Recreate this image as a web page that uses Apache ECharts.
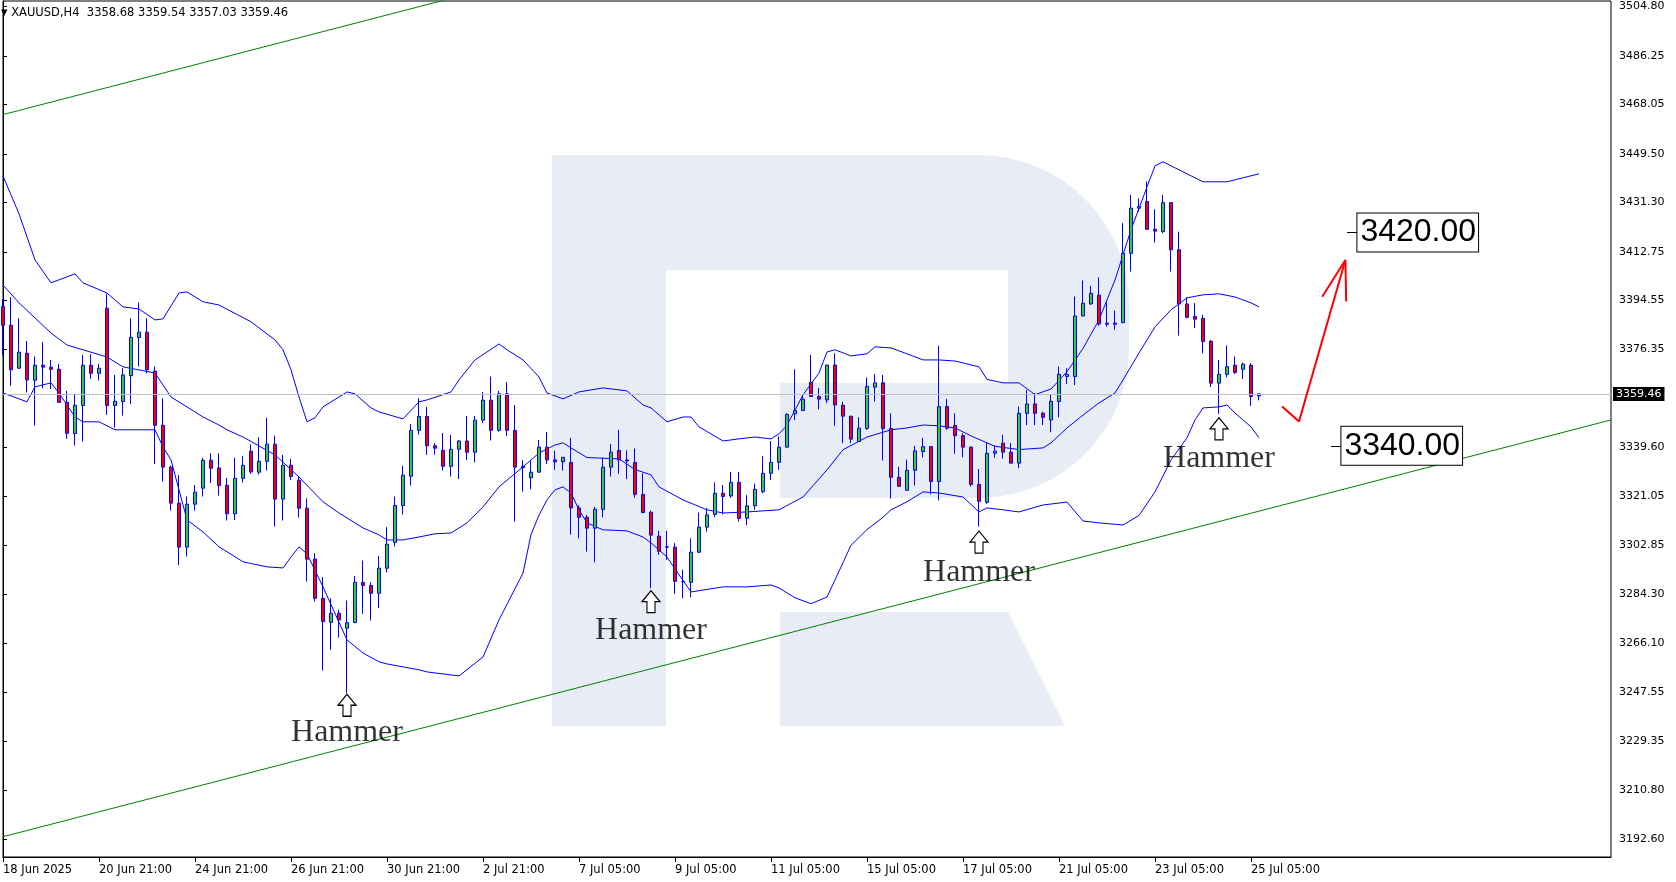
<!DOCTYPE html>
<html>
<head>
<meta charset="utf-8">
<script src="https://cdn.jsdelivr.net/npm/echarts@6/dist/echarts.min.js"></script>
<style>html,body{margin:0;padding:0;background:#fff;}#chart{width:1676px;height:882px;}</style>
</head>
<body>
<div id="chart"></div>
<script>
// ---------- DATA ----------
const symbolName = 'XAUUSD';
const timeframe = 'H4';
const sessionDays = ['18 Jun','19 Jun','20 Jun','23 Jun','24 Jun','25 Jun','26 Jun','27 Jun','30 Jun','1 Jul','2 Jul','3 Jul','4 Jul','7 Jul','8 Jul','9 Jul','10 Jul','11 Jul','14 Jul','15 Jul','16 Jul','17 Jul','18 Jul','21 Jul','22 Jul','23 Jul','24 Jul','25 Jul'];
const fullDayHours = ['01:00','05:00','09:00','13:00','17:00','21:00'];
const partialDayHours = {'18 Jun':['21:00'], '4 Jul':['01:00','05:00','09:00','13:00'], '25 Jul':['01:00','05:00','09:00']};
const xTickLabels = ['18 Jun 2025','20 Jun 21:00','24 Jun 21:00','26 Jun 21:00','30 Jun 21:00','2 Jul 21:00','7 Jul 05:00','9 Jul 05:00','11 Jul 05:00','15 Jul 05:00','17 Jul 05:00','21 Jul 05:00','23 Jul 05:00','25 Jul 05:00'];
const yTicks = [3192.60,3210.80,3229.35,3247.55,3266.10,3284.30,3302.85,3321.05,3339.60,3376.35,3394.55,3412.75,3431.30,3449.50,3468.05,3486.25,3504.80];

const opens = [
3392.2,3385.2,3369.1,3374.7,3364.6,3370.2,3369.5,3368.7,3356.3,3344.6,
3355.1,3370.2,3367.2,3391.6,3355.1,3356.6,3366.3,3380.6,3382.6,3368.0,
3347.7,3332.0,3318.5,3302.0,3318.1,3324.1,3334.6,3331.7,3325.2,3314.5,
3327.8,3338.0,3330.1,3334.2,3340.6,3320.0,3332.7,3327.1,3316.6,3297.5,
3282.8,3273.8,3277.2,3271.6,3273.7,3288.8,3287.6,3284.7,3294.1,3303.8,
3317.6,3328.6,3345.8,3351.0,3340.0,3338.3,3332.3,3338.7,3341.8,3337.6,
3349.6,3357.1,3345.8,3359.5,3345.8,3332.3,3328.0,3330.1,3339.5,3334.7,
3334.0,3333.8,3316.7,3313.2,3309.1,3316.2,3332.0,3338.3,3334.7,3333.8,
3321.8,3315.1,3306.1,3302.1,3302.0,3289.1,3288.8,3300.1,3309.5,3314.3,
3322.2,3321.2,3326.3,3312.8,3317.5,3322.8,3329.7,3333.8,3339.5,3352.0,
3353.2,3363.8,3358.5,3357.2,3370.3,3355.2,3351.1,3341.6,3346.5,3362.0,
3363.6,3346.5,3328.2,3323.3,3330.8,3337.8,3339.7,3326.6,3354.7,3347.6,
3343.8,3339.5,3325.5,3318.8,3337.2,3341.0,3337.6,3333.5,3352.2,3355.7,
3352.2,3349.7,3356.6,3366.0,3366.0,3388.7,3393.2,3396.5,3386.0,3386.0,
3386.2,3412.2,3429.1,3431.6,3421.2,3420.3,3431.2,3413.5,3393.2,3388.5,
3387.8,3379.2,3363.5,3366.8,3370.2,3368.7,3370.2,3358.68];
const closes = [
3385.2,3368.5,3375.1,3364.7,3370.2,3369.5,3368.7,3356.3,3344.7,3355.2,
3370.2,3367.2,3369.1,3355.1,3356.7,3366.6,3380.7,3382.6,3368.5,3347.7,
3332.0,3318.5,3302.0,3318.1,3322.6,3334.6,3331.6,3325.1,3314.5,3327.8,
3332.7,3330.2,3334.2,3340.6,3320.0,3332.7,3328.5,3316.6,3297.5,3282.8,
3274.1,3277.2,3274.7,3273.7,3288.8,3287.6,3284.7,3294.1,3303.1,3317.6,
3329.0,3345.8,3351.0,3340.0,3339.1,3332.3,3338.7,3341.8,3337.6,3349.6,
3357.1,3345.8,3359.5,3345.8,3332.0,3331.8,3330.1,3339.5,3334.7,3334.0,
3335.7,3316.7,3313.2,3309.1,3316.2,3332.0,3337.6,3334.7,3334.3,3321.8,
3315.0,3306.5,3300.5,3302.0,3289.2,3289.0,3300.1,3309.5,3314.1,3322.2,
3321.0,3326.3,3312.8,3317.5,3323.7,3329.7,3333.8,3339.5,3351.8,3353.2,
3357.5,3358.5,3357.5,3370.3,3355.3,3351.1,3342.5,3346.6,3362.3,3363.6,
3346.5,3328.2,3324.8,3330.8,3338.1,3339.7,3326.6,3354.7,3346.6,3343.8,
3339.5,3325.5,3319.2,3337.2,3338.0,3337.6,3333.5,3352.2,3355.7,3352.2,
3350.7,3356.7,3366.8,3366.8,3388.7,3393.5,3397.2,3385.7,3385.6,3385.6,
3412.2,3429.1,3429.7,3421.2,3420.5,3431.2,3413.5,3393.2,3388.2,3387.5,
3379.1,3363.5,3366.8,3369.7,3367.5,3370.6,3358.5,3359.46];
const highs = [
3395.0,3395.7,3387.8,3379.3,3373.5,3379.0,3372.2,3370.7,3360.6,3359.5,
3374.1,3374.3,3370.7,3397.0,3366.6,3369.1,3387.8,3393.7,3387.8,3369.7,
3357.8,3332.5,3329.1,3321.0,3325.3,3335.4,3337.2,3337.2,3328.0,3335.5,
3336.1,3340.5,3343.2,3350.5,3343.8,3336.6,3335.1,3328.5,3320.3,3299.7,
3290.7,3282.8,3278.5,3282.0,3291.2,3297.0,3288.8,3298.7,3309.5,3321.0,
3332.5,3348.2,3357.8,3354.6,3341.0,3344.8,3344.1,3342.2,3351.2,3351.2,
3360.1,3366.0,3360.6,3364.0,3355.3,3334.7,3334.3,3342.2,3345.2,3338.1,
3335.7,3343.0,3317.7,3314.1,3317.1,3335.6,3340.6,3346.0,3338.3,3339.0,
3329.7,3315.7,3308.1,3308.1,3303.5,3293.5,3305.3,3315.0,3316.6,3326.3,
3325.3,3330.2,3330.2,3321.5,3325.8,3336.1,3341.8,3343.5,3352.2,3368.7,
3359.1,3374.1,3361.6,3370.3,3374.7,3356.5,3351.1,3350.7,3365.6,3367.0,
3366.6,3352.2,3332.1,3334.8,3340.0,3343.0,3339.7,3377.5,3357.6,3352.2,
3344.7,3339.8,3331.3,3341.3,3340.1,3344.1,3341.0,3354.7,3361.0,3359.7,
3352.8,3359.1,3369.7,3369.1,3396.0,3402.0,3400.0,3403.2,3393.8,3390.7,
3423.5,3434.1,3432.8,3439.1,3428.7,3434.1,3431.2,3420.3,3395.7,3393.5,
3389.1,3379.7,3372.2,3377.6,3373.5,3371.2,3371.0,3359.54];
const lows = [
3374.0,3362.5,3368.8,3360.0,3347.6,3361.6,3361.3,3356.3,3342.6,3340.1,
3341.6,3365.1,3364.5,3351.6,3346.8,3351.3,3355.7,3369.7,3367.2,3333.1,
3326.6,3315.7,3295.2,3298.5,3315.7,3321.0,3326.0,3321.3,3312.0,3312.2,
3326.2,3329.5,3329.2,3330.7,3309.7,3312.0,3327.2,3313.1,3289.1,3281.6,
3255.7,3263.5,3268.1,3247.2,3273.5,3277.0,3274.5,3279.1,3292.5,3302.2,
3314.2,3325.1,3344.2,3336.6,3336.7,3330.7,3328.5,3327.5,3334.7,3333.8,
3348.5,3342.0,3345.3,3343.7,3311.6,3322.8,3323.7,3330.1,3333.1,3331.0,
3330.7,3306.7,3305.3,3300.3,3296.3,3313.2,3328.5,3329.5,3327.5,3320.5,
3314.7,3286.6,3299.1,3297.2,3284.5,3282.8,3283.2,3299.7,3307.8,3313.2,
3314.3,3320.5,3311.6,3310.2,3316.0,3322.2,3327.2,3331.0,3339.5,3349.7,
3353.2,3358.5,3353.7,3356.0,3347.5,3341.0,3341.0,3341.6,3346.0,3356.6,
3334.5,3320.2,3324.8,3323.3,3325.1,3335.6,3321.8,3319.5,3346.0,3337.0,
3335.7,3324.7,3309.7,3318.2,3335.5,3335.1,3333.5,3331.6,3347.8,3347.8,
3347.8,3345.1,3350.7,3363.2,3362.8,3388.5,3392.8,3385.0,3384.7,3383.5,
3386.0,3405.3,3427.8,3421.0,3416.2,3419.7,3405.3,3381.3,3387.8,3384.1,
3374.7,3362.0,3352.0,3365.7,3367.0,3365.0,3355.0,3357.03];

// Bollinger bands: [bar index, price]
const bbUpper = [[0,3441.2],[2,3427.0],[4,3409.7],[6,3401.1],[9,3404.5],[10,3401.1],[13,3397.3],[15,3392.1],[17,3391.3],[19,3387.2],[20,3387.6],[22,3397.3],[23,3397.7],[25,3394.0],[27,3392.8],[31,3386.5],[34,3379.7],[35,3376.0],[36,3368.5],[37,3358.3],[38,3349.0],[39,3350.5],[40,3354.6],[42,3358.3],[43,3360.2],[44,3359.5],[46,3354.2],[47,3352.7],[50,3350.1],[52,3356.5],[53,3357.2],[56,3360.2],[57,3364.7],[59,3372.2],[62,3378.2],[63,3376.0],[65,3372.2],[67,3365.8],[68,3359.8],[70,3357.6],[72,3360.2],[75,3361.7],[78,3360.6],[80,3355.3],[81,3354.2],[83,3349.0],[85,3350.8],[86,3350.8],[87,3347.1],[90,3341.8],[92,3342.6],[94,3343.3],[96,3342.6],[97,3344.5],[98,3347.7],[100,3359.1],[102,3367.3],[103,3375.2],[104,3376.0],[106,3373.7],[108,3374.5],[109,3377.1],[111,3376.7],[113,3374.5],[115,3372.2],[117,3372.2],[119,3371.8],[122,3369.6],[123,3364.9],[125,3363.6],[127,3363.6],[129,3359.2],[131,3361.3],[133,3367.8],[135,3376.5],[137,3387.2],[139,3402.2],[141,3421.0],[143,3437.1],[144,3445.0],[145,3446.5],[146,3445.0],[150,3439.0],[153,3439.0],[157,3442.0]];
const bbMiddle = [[0,3400.3],[2,3393.6],[6,3382.3],[8,3377.8],[13,3373.3],[15,3369.6],[19,3367.3],[21,3358.3],[23,3354.6],[25,3350.8],[27,3347.8],[28,3346.0],[30,3343.3],[34,3336.6],[37,3328.3],[40,3319.0],[42,3314.8],[45,3309.2],[47,3306.6],[48,3304.7],[50,3304.7],[52,3305.8],[54,3307.0],[56,3307.3],[58,3311.1],[60,3317.1],[62,3324.6],[65,3332.1],[67,3337.3],[69,3340.3],[70,3341.1],[71,3339.2],[73,3335.6],[77,3335.1],[79,3331.1],[81,3329.1],[82,3324.6],[85,3319.7],[88,3316.0],[90,3314.8],[93,3315.2],[97,3316.0],[100,3320.8],[103,3331.0],[105,3338.5],[108,3343.3],[111,3346.0],[113,3346.7],[115,3347.8],[117,3347.5],[119,3346.7],[121,3343.7],[124,3339.8],[127,3338.6],[130,3339.2],[131,3341.1],[133,3346.7],[135,3351.5],[137,3356.1],[139,3359.8],[140,3364.7],[142,3374.8],[144,3384.6],[146,3391.0],[148,3395.5],[150,3396.6],[152,3397.0],[154,3395.8],[156,3393.6],[157,3392.1]];
const bbLower = [[0,3359.8],[3,3356.5],[4,3362.1],[6,3363.6],[7,3359.8],[9,3350.8],[10,3349.0],[12,3349.0],[14,3346.0],[19,3346.0],[20,3339.6],[21,3334.7],[23,3312.2],[25,3307.7],[27,3302.1],[30,3296.5],[33,3294.6],[35,3294.2],[36,3298.3],[37,3302.1],[38,3299.5],[40,3287.1],[43,3267.2],[45,3262.3],[47,3259.0],[48,3258.2],[52,3256.0],[53,3255.2],[57,3253.7],[60,3260.8],[62,3274.7],[65,3292.3],[66,3306.7],[67,3314.0],[68,3319.7],[69,3323.5],[70,3324.6],[71,3322.3],[72,3316.0],[73,3311.1],[75,3308.5],[78,3308.1],[80,3305.8],[81,3303.6],[83,3298.3],[84,3293.8],[86,3285.2],[90,3287.1],[93,3287.1],[96,3287.8],[97,3286.7],[99,3283.0],[101,3280.8],[103,3283.3],[104,3289.7],[106,3302.7],[108,3308.6],[110,3313.2],[111,3316.0],[113,3319.0],[115,3322.7],[117,3322.3],[120,3320.8],[122,3315.2],[123,3316.7],[125,3316.0],[127,3315.2],[130,3317.8],[133,3318.9],[135,3311.8],[137,3311.1],[140,3310.3],[142,3313.9],[144,3322.7],[146,3334.7],[148,3343.0],[149,3349.7],[150,3354.2],[152,3354.6],[153,3355.3],[154,3352.3],[156,3347.1],[157,3343.0]];

// Channel lines: [bar index, price]
const channelUpper = [[0,3464.2],[60,3510.9]];
const channelLower = [[0,3193.4],[201,3349.7]];
// Hammer bars
const hammerIdx = [43, 81, 122, 152];
// Forecast arrow: [bar index, price]
const forecastPath = [[159.9,3354.7],[162.0,3349.1],[167.8,3409.7]];
const forecastHead = [[164.9,3395.9],[167.8,3409.7],[167.9,3394.1]];
// Target levels and their marker start/end (bar index)
const levels = [3420.00, 3340.00];
const levelMarkFrom = [168.0, 166.0];
const levelMarkTo = [169.3, 167.3];

// ---------- STYLE (pixel offsets of the hand-placed annotations) ----------
const hammerArrowOffset = [12, 13.5, 15.5, 15];
const hammerTextOffset = [39.5, 42, 46, 44.5];

// ---------- BUILD ----------
const N_SLOTS = 202;
const categories = [];
sessionDays.forEach(d => (partialDayHours[d] || fullDayHours).forEach(h => categories.push(d + ' ' + h)));
const axisCategories = categories.concat(new Array(N_SLOTS - categories.length).fill(''));
const candleData = opens.map((o, i) => [o, closes[i], lows[i], highs[i]]);
const last = opens.length - 1;
const showTick = (i) => i % 12 === 0 && (i / 12) < xTickLabels.length;
const arrowPath = 'path://M9,0 L18,11 L13,11 L13,22 L5,22 L5,11 L0,11 Z';
const wm = '#e8edf5';

const chart = echarts.init(document.getElementById('chart'), null, {renderer: 'canvas'});
const option = {
  animation: false,
  backgroundColor: '#ffffff',
  title: {
    text: '{t|\u25BC} ' + symbolName + ',' + timeframe + '  ' + [opens[last], highs[last], lows[last], closes[last]].map(v => v.toFixed(2)).join(' '),
    left: 1, top: 7, padding: 0,
    textStyle: {fontFamily: 'DejaVu Sans', fontSize: 11.5, fontWeight: 'normal', color: '#000',
      rich: {t: {fontFamily: 'DejaVu Sans', fontSize: 8.5, color: '#000'}}}
  },
  grid: {left: 3, top: 1, right: 65, bottom: 25, show: true, borderColor: '#000', borderWidth: 1,
         backgroundColor: 'transparent', containLabel: false, outerBoundsMode: 'none'},
  graphic: [
    {type: 'rect', z: -10, silent: true, shape: {x: 666, y: 155, width: 463, height: 343, r: [0, 150, 150, 0]}, style: {fill: wm}},
    {type: 'rect', z: -10, silent: true, shape: {x: 666, y: 270, width: 342, height: 113}, style: {fill: '#fff'}},
    {type: 'rect', z: -10, silent: true, shape: {x: 666, y: 383, width: 114, height: 115}, style: {fill: '#fff'}},
    {type: 'rect', z: -10, silent: true, shape: {x: 552, y: 155, width: 114, height: 571}, style: {fill: wm}},
    {type: 'polygon', z: -10, silent: true, shape: {points: [[780, 612], [1008, 612], [1065, 726], [780, 726]]}, style: {fill: wm}}
  ],
  xAxis: [
    {
      type: 'category', data: axisCategories, boundaryGap: false, gridIndex: 0,
      axisLine: {show: true, lineStyle: {color: '#000', width: 1}},
      axisTick: {show: true, interval: showTick, length: 5, lineStyle: {color: '#000'}},
      axisLabel: {show: true, interval: showTick, formatter: (v, i) => xTickLabels[i / 12] || '',
                  align: 'left', margin: 7, fontFamily: 'DejaVu Sans', fontSize: 11.5, color: '#000'},
      splitLine: {show: false}
    },
    {type: 'value', min: 0, max: N_SLOTS - 1, show: false, gridIndex: 0, splitLine: {show: false}}
  ],
  yAxis: {
    type: 'value', position: 'right', min: 3185.8, max: 3506.8, scale: true,
    axisLine: {show: true, lineStyle: {color: '#000', width: 1}},
    axisTick: {show: true, customValues: yTicks, length: 4, lineStyle: {color: '#000'}},
    axisLabel: {show: true, customValues: yTicks, formatter: v => Number(v).toFixed(2), margin: 8,
                fontFamily: 'DejaVu Sans', fontSize: 11, color: '#000'},
    splitLine: {show: false}
  },
  series: [
    {name: 'channelUpper', type: 'line', xAxisIndex: 1, data: channelUpper, symbol: 'none', clip: true, z: 1,
     lineStyle: {color: '#008000', width: 1}, silent: true},
    {name: 'channelLower', type: 'line', xAxisIndex: 1, data: channelLower, symbol: 'none', clip: true, z: 1,
     lineStyle: {color: '#008000', width: 1}, silent: true},
    {name: 'bbUpper', type: 'line', xAxisIndex: 0, data: bbUpper, symbol: 'none', z: 2,
     lineStyle: {color: '#0000ff', width: 1}, silent: true},
    {name: 'bbMiddle', type: 'line', xAxisIndex: 0, data: bbMiddle, symbol: 'none', z: 2,
     lineStyle: {color: '#0000ff', width: 1}, silent: true},
    {name: 'bbLower', type: 'line', xAxisIndex: 0, data: bbLower, symbol: 'none', z: 2,
     lineStyle: {color: '#0000ff', width: 1}, silent: true},
    {
      name: symbolName, type: 'candlestick', xAxisIndex: 0, data: candleData, barWidth: 4, z: 3,
      itemStyle: {color: '#32cd32', color0: '#ff0000', borderColor: '#0000ff', borderColor0: '#0000ff', borderWidth: 1},
      markLine: {
        silent: true, symbol: 'none', animation: false,
        lineStyle: {color: '#c0c0c0', width: 1, type: 'solid'},
        label: {show: true, position: 'end', distance: 2, formatter: () => closes[last].toFixed(2),
                color: '#fff', backgroundColor: '#000', fontFamily: 'DejaVu Sans', fontSize: 11, padding: [2, 3, 1, 3]},
        data: [{yAxis: closes[last]}]
      }
    },
    {
      name: 'hammerArrow', type: 'scatter', xAxisIndex: 0, z: 5, silent: true,
      data: hammerIdx.map((i, k) => ({value: [i, lows[i]], symbolOffset: [0, hammerArrowOffset[k]]})),
      symbol: arrowPath, symbolSize: [18, 22],
      itemStyle: {color: '#ffffff', borderColor: '#000', borderWidth: 1.2, opacity: 1}
    },
    {
      name: 'hammerText', type: 'scatter', xAxisIndex: 0, z: 5, silent: true,
      data: hammerIdx.map((i, k) => ({value: [i, lows[i]], label: {offset: [0, hammerTextOffset[k]]}})),
      symbol: 'circle', symbolSize: 1, itemStyle: {color: 'rgba(0,0,0,0)'},
      label: {show: true, position: 'inside', formatter: 'Hammer',
              fontFamily: 'Liberation Serif', fontSize: 32, color: '#000', textBorderWidth: 0}
    },
    {name: 'forecast', type: 'line', xAxisIndex: 1, data: forecastPath, symbol: 'none', z: 6, silent: true,
     lineStyle: {color: '#ff0000', width: 2}},
    {name: 'forecastHead', type: 'line', xAxisIndex: 1, data: forecastHead, symbol: 'none', z: 6, silent: true,
     lineStyle: {color: '#ff0000', width: 2},
     markLine: {
       silent: true, symbol: 'none', animation: false,
       lineStyle: {color: '#000', width: 1, type: 'solid'},
       label: {show: true, position: 'end', distance: 0,
               formatter: p => levels[p.dataIndex].toFixed(2),
               color: '#000', fontFamily: 'Liberation Sans', fontSize: 32, lineHeight: 32,
               backgroundColor: '#fff', borderColor: '#000', borderWidth: 1, padding: [3, 2, 3, 3]},
       data: levels.map((lv, k) => [{coord: [levelMarkFrom[k], lv]}, {coord: [levelMarkTo[k], lv]}])
     }}
  ]
};
chart.setOption(option);
</script>
</body>
</html>
